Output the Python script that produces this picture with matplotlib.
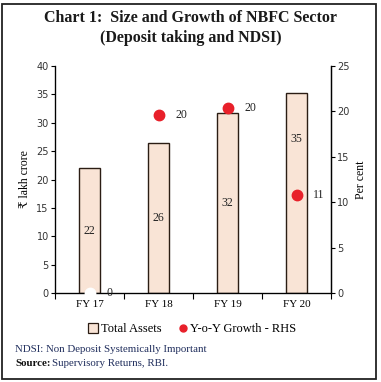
import matplotlib
matplotlib.use("Agg")
import matplotlib.pyplot as plt
from matplotlib.patches import Rectangle
from matplotlib.lines import Line2D
import numpy as np

categories = ["FY 17", "FY 18", "FY 19", "FY 20"]
total_assets = [22.0, 26.4, 31.8, 35.2]
asset_labels = ["22", "26", "32", "35"]
yoy_growth = [0.0, 19.6, 20.4, 10.8]
growth_labels = ["0", "20", "20", "11"]
left_ticks = [0, 5, 10, 15, 20, 25, 30, 35, 40]
right_ticks = [0, 5, 10, 15, 20, 25]

SERIF = ["Liberation Serif", "DejaVu Serif"]
SANS = ["DejaVu Sans"]
bar_color = "#F9E4D6"
edge_color = "#2B1D14"
red = "#E8202A"
navy = "#1F2D5C"

fig = plt.figure(figsize=(3.81, 3.82), dpi=100)
fig.patch.set_facecolor("white")
fig.add_artist(Rectangle((2/381, 3/382), 374/381, 375/382, transform=fig.transFigure,
                         fill=False, edgecolor="#222222", linewidth=1.3))

ax = fig.add_axes([55/381, 1 - 293/382, 276/381, 227/382])
x = np.arange(len(categories))
ax.bar(x, total_assets, width=0.29, color=bar_color, edgecolor=edge_color, linewidth=1.0, zorder=2)
ax.set_xlim(-0.5, 3.5)
ax.set_ylim(0, 40)
ax.set_yticks(left_ticks)
ax.spines["top"].set_visible(False)
for s in ["left", "right", "bottom"]:
    ax.spines[s].set_linewidth(0.9)
ax.tick_params(axis="y", labelsize=7, length=3, width=0.8, pad=1.5)
for t in ax.get_yticklabels():
    t.set_family(SANS)
    t.set_color("#333333")
ax.set_xticks(x)
ax.set_xticklabels(categories, family=SERIF, fontsize=8)
ax.tick_params(axis="x", length=0, pad=5)
ax.set_xticks(np.arange(-0.5, 4, 1), minor=True)
ax.tick_params(axis="x", which="minor", length=4, width=0.8, direction="out")
ax.set_ylabel("₹ lakh crore", family=SERIF + ["DejaVu Sans"], fontsize=8.5, labelpad=4)

for i, (v, lab) in enumerate(zip(total_assets, asset_labels)):
    ypos = v / 2 if i < 3 else v * 0.77
    ax.text(i, ypos, lab, ha="center", va="center", family=SERIF, fontsize=8.5, color="#222222", zorder=3)

ax2 = ax.twinx()
ax2.set_ylim(0, 25)
ax2.set_yticks(right_ticks)
ax2.spines["top"].set_visible(False)
ax2.spines["right"].set_linewidth(0.9)
ax2.tick_params(axis="y", labelsize=7, length=3, width=0.8, pad=1.5)
for t in ax2.get_yticklabels():
    t.set_family(SANS)
    t.set_color("#333333")
ax2.set_ylabel("Per cent", family=SERIF, fontsize=8.5, labelpad=4)

colors = ["white" if v == 0 else red for v in yoy_growth]
for i, (v, c, lab) in enumerate(zip(yoy_growth, colors, growth_labels)):
    ax2.plot(i, v, "o", color=c, markersize=7.5, clip_on=False, zorder=5)
    ax2.annotate(lab, (i, v), xytext=(12, 0), textcoords="offset points", ha="left", va="center",
                 family=SERIF, fontsize=8.5, color="#222222", annotation_clip=False)

fig.text(0.5, 1 - 18/382, "Chart 1:  Size and Growth of NBFC Sector", ha="center", va="center",
         family=SERIF, fontsize=11.5, fontweight="bold", color="#1a1a1a")
fig.text(0.5, 1 - 38/382, "(Deposit taking and NDSI)", ha="center", va="center",
         family=SERIF, fontsize=11.5, fontweight="bold", color="#1a1a1a")

handles = [Rectangle((0, 0), 1, 1, facecolor=bar_color, edgecolor=edge_color, linewidth=0.9),
           Line2D([], [], marker="o", color=red, linestyle="none", markersize=5)]
fig.legend(handles, ["Total Assets", "Y-o-Y Growth - RHS"], loc="center", bbox_to_anchor=(0.505, 1 - 329/382),
           ncol=2, frameon=False, prop={"family": SERIF, "size": 9}, handlelength=0.8, handleheight=0.8,
           handletextpad=0.2, columnspacing=1.3)

fig.text(15/381, 1 - 350/382, "NDSI: Non Deposit Systemically Important", ha="left", va="center",
         family=SERIF, fontsize=7.8, color=navy)
t1 = fig.text(15/381, 1 - 363/382, "Source:", ha="left", va="center", family=SERIF, fontsize=7.8,
              fontweight="bold", color="#111111")
fig.canvas.draw()
bb = t1.get_window_extent()
fig.text((bb.x1 + 2) / (3.81 * 100), 1 - 363/382, "Supervisory Returns, RBI.", ha="left", va="center",
         family=SERIF, fontsize=7.8, color=navy)

fig.savefig("out.png", dpi=100)
